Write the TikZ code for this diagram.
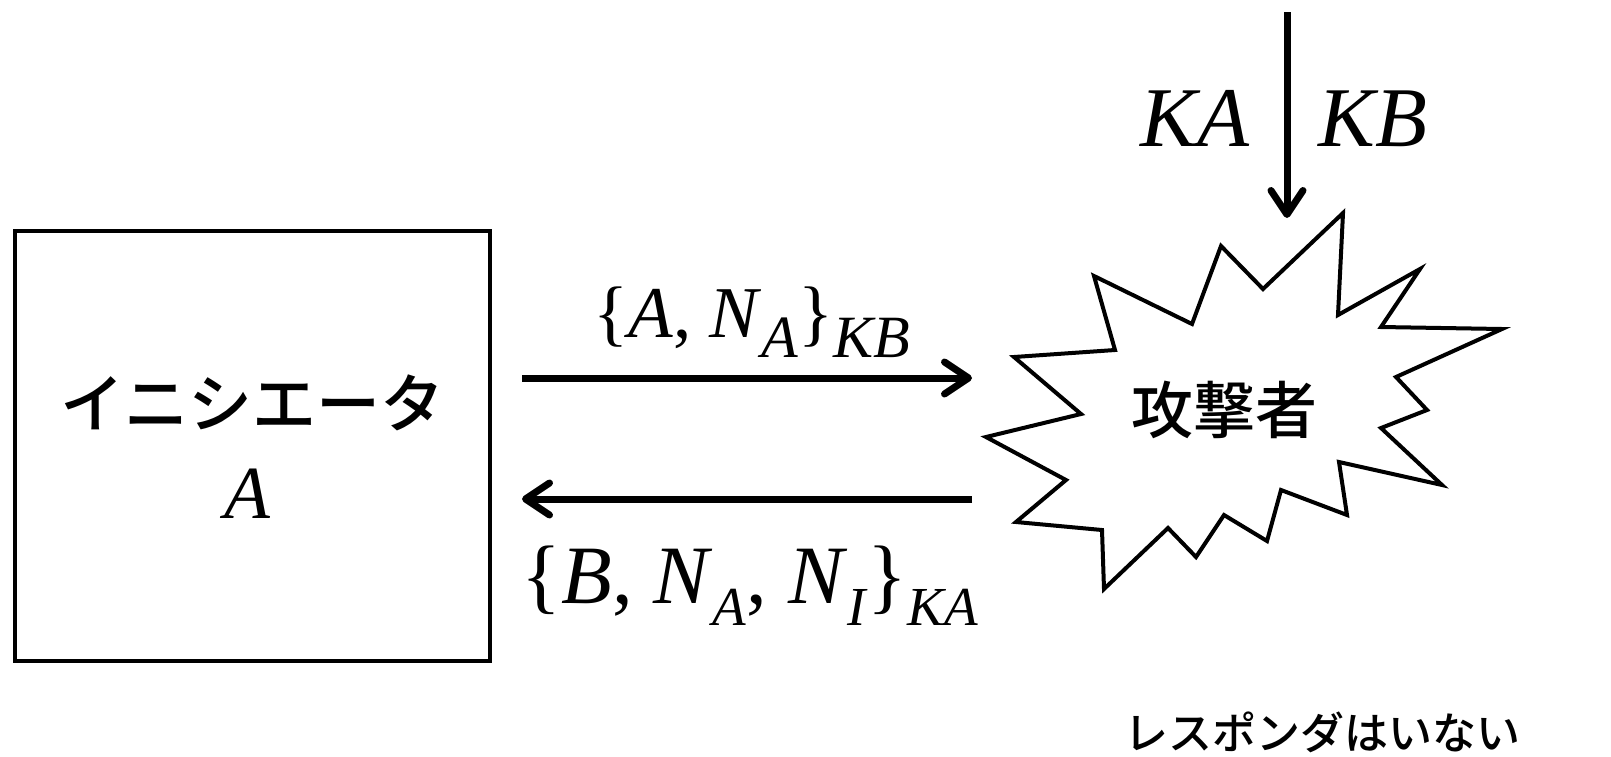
\documentclass[tikz,border=0pt]{standalone}
\usepackage{fontspec}
\setmainfont{Liberation Serif}
\newfontfamily\jpfont{Noto Sans CJK JP Medium}
\usetikzlibrary{arrows.meta}
\newcommand{\lowtx}[3]{\raisebox{-#1pt}{\fontsize{#2}{#2}\selectfont\textit{#3}}}
\begin{document}
\begin{tikzpicture}[x=1pt, y=-1pt, >={Straight Barb[length=24pt, width=32pt, round]},
	msg/.style={->, line width=7pt},
	jp/.style={font=\jpfont, inner sep=0pt},
	lat/.style={inner sep=0pt, anchor=base}]
	\useasboundingbox (0,0) rectangle (1611,756);
	% イニシエータ
	\node[draw, line width=4pt, minimum width=475pt, minimum height=430pt] (init) at (252,446) {};
	\node[jp, font=\jpfont\fontsize{64}{70}\selectfont] (initname) at (252,403) {イニシエータ};
	\node[lat, font=\fontsize{75}{80}\selectfont] (initA) at (248,518) {\textit{A}};
	% 攻撃者
	\draw[line width=4pt, line join=miter] (1343,213) -- (1338,315) -- (1420,269) -- (1381,327)
		-- (1502,329) -- (1396,377) -- (1427,410) -- (1381,428) -- (1442,485) -- (1339,462)
		-- (1347,515) -- (1281,490) -- (1267,541) -- (1224,515) -- (1196,557) -- (1168,528)
		-- (1104,589) -- (1102,530) -- (1016,522) -- (1066,480) -- (986,437) -- (1081,414)
		-- (1014,357) -- (1115,350) -- (1094,276) -- (1192,324) -- (1221,246) -- (1263,289) -- cycle;
	\node[jp, font=\jpfont\fontsize{62}{68}\selectfont] (atk) at (1224,410) {攻撃者};
	\node[jp, font=\jpfont\fontsize{44}{50}\selectfont] (nores) at (1322,732) {レスポンダはいない};
	% 鍵
	\coordinate (keysrc) at (1287,12);
	\coordinate (keydst) at (1287,218);
	\draw[msg] (keysrc) -- (keydst);
	\node[lat, font=\fontsize{85}{90}\selectfont] (keyA) at (1195,146) {\textit{KA}};
	\node[lat, font=\fontsize{85}{90}\selectfont] (keyB) at (1373,146) {\textit{KB}};
	% メッセージ
	\coordinate (m1s) at (522,378);
	\coordinate (m1e) at (972,378);
	\coordinate (m2s) at (972,499);
	\coordinate (m2e) at (522,499);
	\draw[msg] (m1s) -- (m1e);
	\draw[msg] (m2s) -- (m2e);
	\node[lat, font=\fontsize{73}{78}\selectfont] (lab1) at (752,337)
		{\{\textit{A}, \textit{N}\lowtx{20}{60}{A}\}\lowtx{20}{60}{KB}};
	\node[lat, font=\fontsize{83}{88}\selectfont] (lab2) at (750,603)
		{\{\textit{B}, \textit{N}\lowtx{22}{55}{A}, \textit{N}\lowtx{22}{55}{I}\}\lowtx{22}{55}{KA}};
\end{tikzpicture}
\end{document}
